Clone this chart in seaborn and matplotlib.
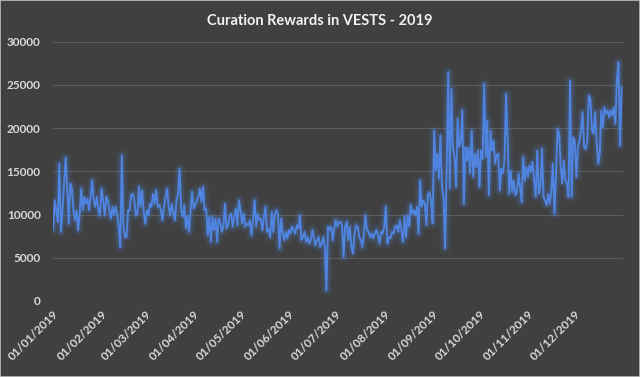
import numpy as np
import pandas as pd
import matplotlib
matplotlib.use("Agg")
import matplotlib.pyplot as plt
import matplotlib.dates as mdates
import matplotlib.patheffects as pe
import seaborn as sns

# daily curation rewards in VESTS, 2019, one list per month
jan = [8200, 11650, 10500, 9150, 15900, 8000, 10500, 13600, 16600, 13200, 8950, 13600, 13000, 10500, 9350, 10500,
       8200, 10100, 13000, 10500, 12050, 11250, 11850, 10500, 12050, 13950, 11650, 10900, 12050, 10500, 9900]
feb = [13000, 11650, 9900, 12050, 11650, 10500, 9550, 10900, 9900, 10900, 10100, 8600, 6250, 16850, 8600, 7400,
       7400, 10500, 10500, 12250, 12400, 11650, 9900, 10100, 13200, 10900, 12800, 10300]
mar = [8950, 10500, 9900, 11250, 10900, 12400, 11250, 12800, 10900, 11100, 10500, 9350, 10900, 12050, 13000, 10900,
       9900, 11250, 10300, 9350, 11650, 12400, 15300, 10500, 9750, 11100, 8400, 9900, 8000, 10500, 12600]
apr = [10700, 11100, 11650, 12050, 13000, 11450, 13200, 10500, 10700, 7600, 9750, 6850, 9750, 8200, 9550, 6850,
       9550, 9150, 8000, 8600, 11250, 8400, 8750, 9900, 10100, 8600, 9750, 10700, 8750, 11650]
may = [10500, 8950, 10100, 8600, 8950, 8750, 9350, 7600, 9350, 11650, 8600, 10100, 9350, 9550, 8200, 9750,
       10900, 8000, 8400, 7400, 10300, 8000, 10100, 10500, 9900, 6100, 9550, 7800, 7050, 8000, 7250]
jun = [8200, 7800, 8600, 8200, 7800, 8750, 8400, 9900, 7050, 7400, 8000, 6850, 7400, 6650, 7050, 8200,
       7250, 6450, 7050, 7400, 6250, 6650, 7400, 6250, 1250, 8600, 8200, 8600, 7050, 8400]
jul = [9350, 8600, 9150, 9150, 8750, 5100, 8600, 9150, 7050, 8600, 6250, 5500, 7800, 8750, 8600, 7400,
       7050, 6250, 7800, 9900, 8200, 8000, 7400, 7800, 7250, 7800, 8200, 7600, 6650, 8000, 7800]
aug = [8600, 10900, 6650, 7400, 7250, 8000, 7800, 8600, 8750, 8000, 9350, 8200, 6850, 9750, 7400, 9900,
       8600, 11100, 10100, 10500, 9900, 10900, 7800, 13950, 10900, 11650, 11250, 8800, 12300, 12600, 11600]
sep = [9000, 19700, 15100, 17050, 14150, 19150, 13200, 12000, 6100, 15500, 26450, 13000, 24550, 17800, 16650,
       13200, 21100, 17800, 18550, 22050, 11250, 17800, 16250, 17800, 14750, 19700, 14350, 17050, 15500, 17400]
oct_ = [13200, 17400, 16450, 25100, 16650, 20900, 12250, 19700, 17400, 18550, 15900, 16850, 17050, 12800, 15300,
        14750, 16250, 23950, 18550, 12400, 15100, 12600, 13950, 12250, 12600, 14750, 13200, 11450, 16650, 13950, 15500]
nov = [14350, 15700, 14900, 16100, 13950, 12050, 17400, 12400, 13200, 17600, 12050, 11650, 11100, 12400, 11250,
       12800, 15900, 10100, 14750, 19900, 19500, 15500, 13600, 16250, 13950, 13600, 12050, 25500, 12050, 18950]
dec = [18550, 14350, 17800, 18550, 19750, 21850, 17800, 17600, 18550, 23750, 23400, 19750, 19350, 21850, 18550,
       15900, 17050, 22050, 20100, 22400, 21650, 22050, 21250, 22050, 21450, 22400, 20500, 25700, 27600, 18000, 24750]

months = [jan, feb, mar, apr, may, jun, jul, aug, sep, oct_, nov, dec]
values = [v for m in months for v in m]
dates = pd.date_range("2019-01-01", periods=len(values), freq="D")
df = pd.DataFrame({"date": dates, "vests": values})

bg = "#404040"
txt = "#d9d9d9"
blue = "#4f84e0"

sns.set_style("dark", rc={"axes.facecolor": bg, "figure.facecolor": bg})
plt.rcParams["font.family"] = ["Lato", "DejaVu Sans"]

fig = plt.figure(figsize=(6.4, 3.77), dpi=100)
ax = fig.add_axes([0.083, 0.2016, 0.8906, 0.6878])

sns.lineplot(data=df, x="date", y="vests", ax=ax, color=blue, linewidth=1.4)
ax.lines[0].set_path_effects([
    pe.Stroke(linewidth=8, foreground=blue, alpha=0.08),
    pe.Stroke(linewidth=4.5, foreground=blue, alpha=0.2),
    pe.Normal(),
])

ax.set_ylim(0, 30000)
ax.set_yticks(range(0, 30001, 5000))
ax.set_xlim(pd.Timestamp("2019-01-01"), pd.Timestamp("2019-12-31 23:00"))
ax.xaxis.set_major_locator(mdates.MonthLocator())
ax.xaxis.set_major_formatter(mdates.DateFormatter("%d/%m/%Y"))
ax.set_xlabel("")
ax.set_ylabel("")

ax.grid(axis="y", color="#5c5c5c", linewidth=0.8)
ax.grid(axis="x", visible=False)
for s in ax.spines.values():
    s.set_visible(False)

ax.tick_params(axis="y", length=0, pad=9, labelsize=8.5, labelcolor=txt)
ax.tick_params(axis="x", length=0, pad=5, labelsize=8.5, labelcolor=txt)
for lbl in ax.get_xticklabels():
    lbl.set_rotation(45)
    lbl.set_ha("right")
    lbl.set_rotation_mode("anchor")
for lbl in ax.get_xticklabels() + ax.get_yticklabels():
    lbl.set_fontweight("bold")

fig.text(0.5, 0.945, "Curation Rewards in VESTS - 2019", ha="center", va="center",
         color="#f2f2f2", fontsize=10.5, fontweight="bold")

fig.patches.append(plt.Rectangle((0, 0), 1, 1, transform=fig.transFigure, fill=False,
                                 edgecolor="#bfbfbf", linewidth=1.2))

fig.savefig("out.png", dpi=100, facecolor=bg)
